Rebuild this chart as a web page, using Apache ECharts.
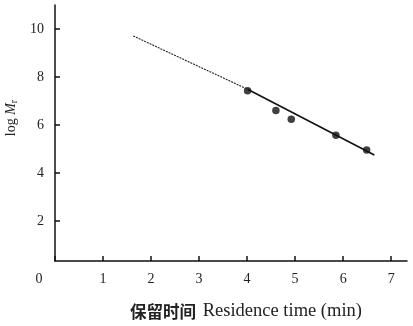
<!DOCTYPE html>
<html><head><meta charset="utf-8">
<script src="https://cdn.jsdelivr.net/npm/echarts@6/dist/echarts.min.js"></script>
<style>html,body{margin:0;padding:0;background:#fff}#c{width:413px;height:326px}</style>
</head><body><div id="c"></div>
<script>
const xTicks = [0,1,2,3,4,5,6,7];
const yTicks = [2,4,6,8,10];
const pointX = [4.01, 4.60, 4.92, 5.85, 6.49];
const pointY = [7.43, 6.60, 6.24, 5.57, 4.96];
const dashedX = [1.63, 4.01];
const dashedY = [9.71, 7.49];
const solidX = [4.01, 6.65];
const solidY = [7.49, 4.75];
const xName = '保留时间';
const xNameEn = 'Residence time (min)';

const zip = (a,b)=>a.map((v,i)=>[v,b[i]]);
const chart = echarts.init(document.getElementById('c'));
const serif = '"Liberation Serif","DejaVu Serif",serif';
chart.setOption({
  animation:false,
  grid:{left:55,right:6,top:5,bottom:65,containLabel:false,outerBoundsMode:'none'},
  xAxis:{type:'value',min:0,max:7.33,interval:1,
    axisLine:{lineStyle:{color:'#111',width:1.5}},
    axisTick:{inside:true,length:5,lineStyle:{color:'#111',width:1.5}},
    splitLine:{show:false},
    axisLabel:{margin:11,fontFamily:serif,fontSize:14,color:'#222',showMaxLabel:false,
      formatter:v=> v===0 ? '{z|0}' : String(v),
      rich:{z:{padding:[0,32,0,0],fontFamily:serif,fontSize:14,color:'#222'}}},
    name:'{cn|'+xName+'}  {en|'+xNameEn+'}',nameLocation:'middle',nameGap:41,
    nameTextStyle:{padding:[0,0,0,30],rich:{
      cn:{fontFamily:'"Noto Sans CJK SC"',fontWeight:'bold',fontSize:16.5,color:'#222'},
      en:{fontFamily:serif,fontSize:18.5,color:'#222'}}}
  },
  yAxis:{type:'value',min:1/3,max:11,
    axisLine:{lineStyle:{color:'#111',width:1.5}},
    axisTick:{inside:true,length:5,customValues:yTicks,lineStyle:{color:'#111',width:1.5}},
    splitLine:{show:false},
    axisLabel:{margin:11,fontFamily:serif,fontSize:14,color:'#222',customValues:yTicks},
    name:'{a|log }{b|M}{c|r}',nameLocation:'middle',nameGap:36,nameRotate:90,
    nameTextStyle:{padding:[0,0,0,30],rich:{
      a:{fontFamily:serif,fontSize:14,color:'#222'},
      b:{fontFamily:serif,fontSize:14,fontStyle:'italic',color:'#222'},
      c:{fontFamily:serif,fontSize:10,color:'#222',padding:[6,0,0,0]}}}
  },
  series:[
    {type:'line',data:zip(dashedX,dashedY),symbol:'none',lineStyle:{color:'#222',width:1.1,type:[2,1]}},
    {type:'line',data:zip(solidX,solidY),symbol:'none',lineStyle:{color:'#111',width:1.6}},
    {type:'scatter',data:zip(pointX,pointY),symbol:'circle',symbolSize:7.5,itemStyle:{color:'#111'}}
  ]
});
</script></body></html>
